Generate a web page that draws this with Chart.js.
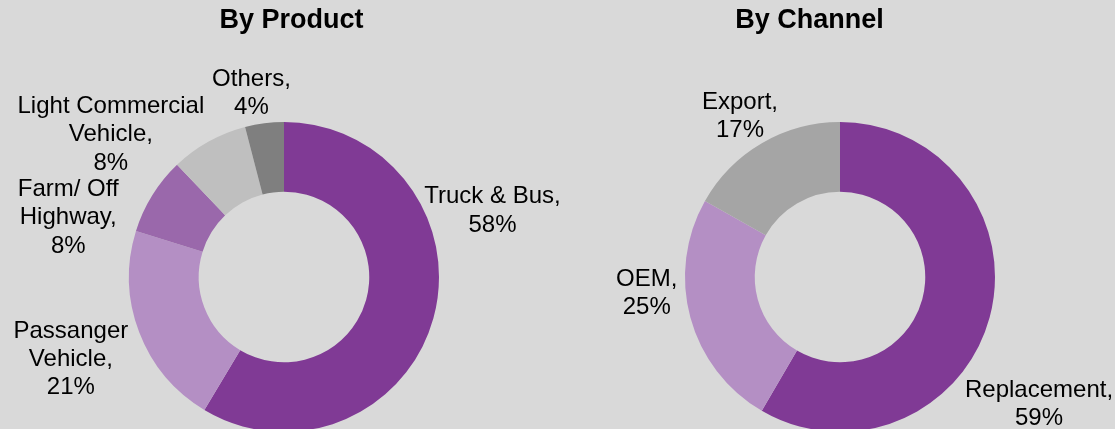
<!DOCTYPE html>
<html>
<head>
<meta charset="utf-8">
<script src="https://cdn.jsdelivr.net/npm/chart.js@4.4.0/dist/chart.umd.min.js"></script>
<style>
  html, body { margin: 0; padding: 0; background: #d9d9d9; overflow: hidden; }
  .box { position: absolute; top: 0; height: 445px; }
  #left { left: 0; width: 600px; }
  #right { left: 557px; width: 558px; }
</style>
</head>
<body>
<div class="box" id="left"><canvas id="productChart"></canvas></div>
<div class="box" id="right"><canvas id="channelChart"></canvas></div>
<script>
// By Product
const productCategories = [["Truck & Bus,"], ["Passanger", "Vehicle,"], ["Farm/ Off", "Highway,"], ["Light Commercial", "Vehicle,"], ["Others,"]];
const productValues = [58, 21, 8, 8, 4];
const productColors = ["#803a95", "#b48fc4", "#9a68ab", "#bfbfbf", "#7f7f7f"];

// By Channel
const channelCategories = [["Replacement,"], ["OEM,"], ["Export,"]];
const channelValues = [59, 25, 17];
const channelColors = ["#803a95", "#b48fc4", "#a5a5a5"];

const FONT = "'Liberation Sans', Arial, sans-serif";

// label centre, relative to donut centre, in units of outer radius
const productLabelPos = [[1.345, -0.427], [-1.375, 0.532], [-1.392, -0.383], [-1.117, -0.917], [-0.21, -1.185]];
const channelLabelPos = [[1.284, 0.824], [-1.247, 0.105], [-0.645, -1.035]];

const sliceLabels = {
  id: "sliceLabels",
  afterDatasetsDraw(chart, args, opts) {
    const ctx = chart.ctx;
    const meta = chart.getDatasetMeta(0);
    const values = chart.data.datasets[0].data;
    ctx.save();
    ctx.fillStyle = "#000";
    ctx.textAlign = "center";
    ctx.textBaseline = "middle";
    // title
    ctx.font = "bold 27px " + FONT;
    ctx.fillText(opts.title, opts.titleX, 21);
    ctx.font = "24px " + FONT;
    meta.data.forEach((arc, i) => {
      const lines = chart.data.labels[i].concat([values[i] + "%"]);
      const cx = arc.x + opts.pos[i][0] * arc.outerRadius;
      const cy = arc.y + opts.pos[i][1] * arc.outerRadius;
      const lh = 28.3;
      const top = cy - (lines.length - 1) * lh / 2;
      lines.forEach((t, j) => ctx.fillText(t, cx, top + j * lh));
    });
    ctx.restore();
  }
};

function makeDonut(id, labels, values, colors, padding, pluginOpts) {
  return new Chart(document.getElementById(id), {
    type: "doughnut",
    data: {
      labels: labels,
      datasets: [
        {
          data: values,
          backgroundColor: colors,
          borderWidth: 0,
          hoverOffset: 0,
        },
      ],
    },
    options: {
      responsive: true,
      maintainAspectRatio: false,
      animation: false,
      cutout: "55%",
      layout: { padding: padding },
      plugins: {
        legend: { display: false },
        tooltip: { enabled: false },
        sliceLabels: pluginOpts,
      },
    },
    plugins: [sliceLabels],
  });
}

makeDonut("productChart", productCategories, productValues, productColors,
  { left: 129, right: 161, top: 122, bottom: 13 },
  { title: "By Product", titleX: 291.5, pos: productLabelPos });

makeDonut("channelChart", channelCategories, channelValues, channelColors,
  { left: 128, right: 120, top: 122, bottom: 13 },
  { title: "By Channel", titleX: 252.5, pos: channelLabelPos });
</script>
</body>
</html>
